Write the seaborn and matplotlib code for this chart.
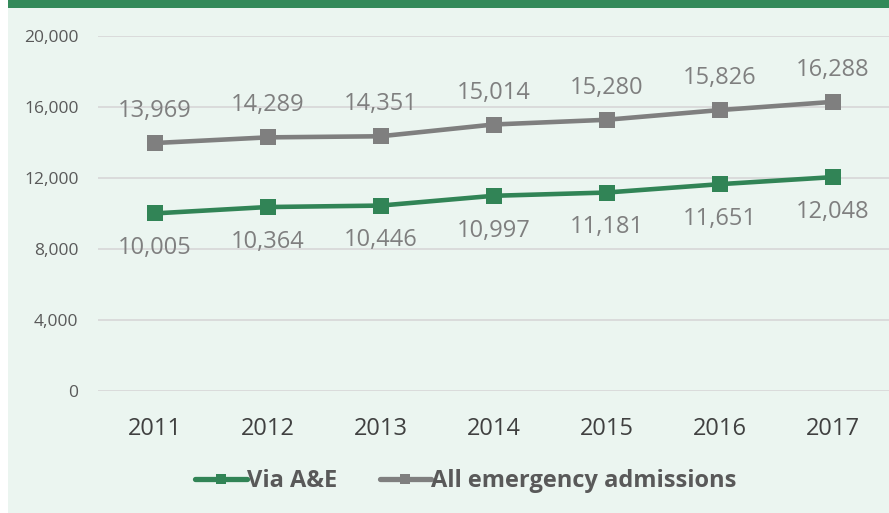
import matplotlib
matplotlib.use("Agg")
import matplotlib.pyplot as plt
import matplotlib.patches as mpatches
import pandas as pd
import seaborn as sns

YEARS = ["2011", "2012", "2013", "2014", "2015", "2016", "2017"]
VIA_AE = [10005, 10364, 10446, 10997, 11181, 11651, 12048]
ALL_EMERGENCY = [13969, 14289, 14351, 15014, 15280, 15826, 16288]
SERIES_NAMES = ["Via A&E", "All emergency admissions"]
Y_TICKS = [0, 4000, 8000, 12000, 16000, 20000]

GREEN = "#318456"
GREY = "#7F7F7F"
BG = "#EBF5F0"
TEXT = "#595959"

sns.set_theme(style="white")
plt.rcParams["font.family"] = ["Open Sans", "DejaVu Sans"]

df = pd.DataFrame({
    "idx": list(range(len(YEARS))) * 2,
    "value": VIA_AE + ALL_EMERGENCY,
    "series": [SERIES_NAMES[0]] * len(YEARS) + [SERIES_NAMES[1]] * len(YEARS),
})

fig = plt.figure(figsize=(8.89, 5.13), dpi=100)
fig.patch.set_facecolor("white")
# mint background panel and green top band
fig.add_artist(mpatches.Rectangle((8 / 889, 0), 1, 1, transform=fig.transFigure,
                                  facecolor=BG, edgecolor="none", zorder=0))
fig.add_artist(mpatches.Rectangle((8 / 889, 1 - 8 / 513), 1, 8 / 513, transform=fig.transFigure,
                                  facecolor="#338A5A", edgecolor="none", zorder=1))

ax = fig.add_axes([98 / 889, 1 - 391 / 513, 791 / 889, 355 / 513])
ax.set_facecolor("none")

sns.lineplot(data=df, x="idx", y="value", hue="series", hue_order=SERIES_NAMES,
             palette=[GREEN, GREY], marker="s", markersize=11, markeredgewidth=0,
             linewidth=3.3, ax=ax, zorder=3)

for i, v in enumerate(VIA_AE):
    ax.annotate(f"{v:,}", (i, v), xytext=(0, -25), textcoords="offset points",
                ha="center", va="center", fontsize=17, color=GREY, zorder=4)
for i, v in enumerate(ALL_EMERGENCY):
    ax.annotate(f"{v:,}", (i, v), xytext=(0, 23), textcoords="offset points",
                ha="center", va="center", fontsize=17, color=GREY, zorder=4)

ax.set_xlim(-0.5, len(YEARS) - 0.5)
ax.set_ylim(0, 20000)
ax.set_xticks(range(len(YEARS)))
ax.set_xticklabels(YEARS, fontsize=17, color="#404040")
ax.set_yticks(Y_TICKS)
ax.set_yticklabels([f"{t:,}" for t in Y_TICKS], fontsize=12.5, color=TEXT)
ax.tick_params(axis="x", length=0, pad=19)
ax.tick_params(axis="y", length=0, pad=14)
ax.grid(axis="y", color="#D9D9D9", linewidth=1.3, zorder=1)
ax.set_axisbelow(True)
for s in ax.spines.values():
    s.set_visible(False)
ax.set_xlabel("")
ax.set_ylabel("")

leg = ax.legend(loc="center", bbox_to_anchor=(0.465, -0.254), ncol=2, frameon=False,
                handlelength=2.2, handletextpad=0.0, columnspacing=1.8,
                prop={"family": "Open Sans", "weight": "bold", "size": 17})
for t in leg.get_texts():
    t.set_color(TEXT)
for h in leg.legend_handles:
    h.set_markersize(7)
    h.set_linewidth(3.8)

fig.savefig("out.png", dpi=100, facecolor=fig.get_facecolor())
